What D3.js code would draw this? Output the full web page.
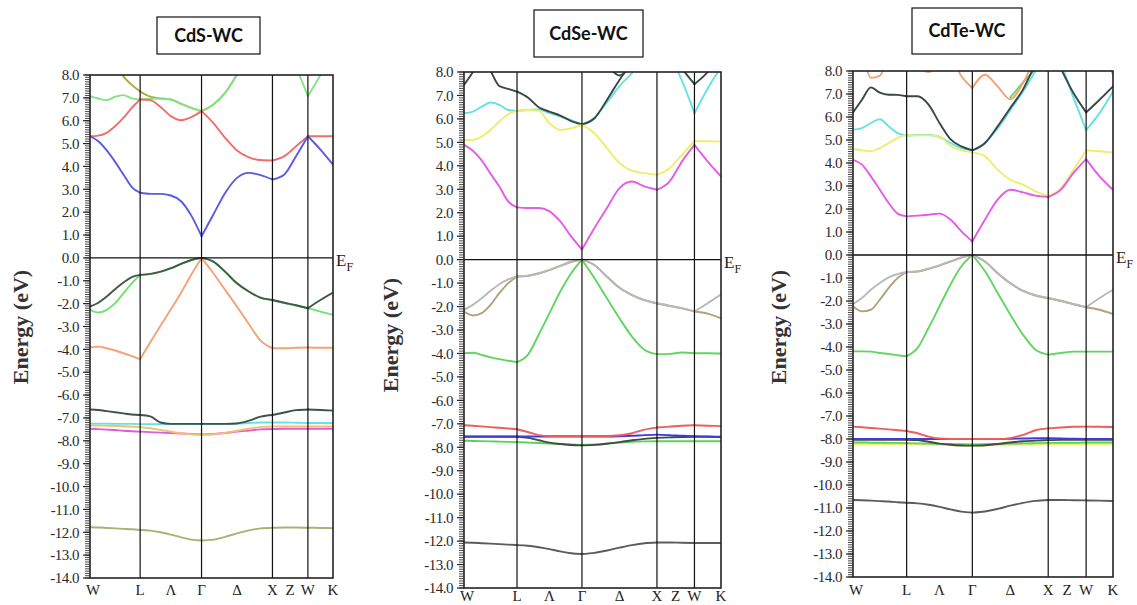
<!DOCTYPE html>
<html>
<head>
<meta charset="utf-8">
<script src="https://cdn.jsdelivr.net/npm/d3@7"></script>
<style>
  body { margin: 0; background: #fff; }
  svg { display: block; }
</style>
</head>
<body>
<svg id="chart" width="1137" height="605"></svg>
<script>
// ---- k-path sampling along W–L–Γ–X–W–K (units of 2π/a) ----
const kPoints = [
  0, 0.118, 0.236, 0.354, 0.471, 0.589, 0.707,      // W → L
  0.851, 0.996, 1.140, 1.284, 1.429, 1.573,         // L → Γ
  1.740, 1.906, 2.073, 2.240, 2.406, 2.573,         // Γ → X
  2.740, 2.906, 3.073,                              // X → W
  3.250, 3.427                                      // W → K
];
const segmentBreaks = [0, 6, 12, 18, 21, 23];
const symmetryLabels = ["W", "L", "Λ", "Γ", "Δ", "X", "Z", "W", "K"];
const symmetryLabelK = [0, 0.707, 1.140, 1.573, 2.073, 2.573, 2.823, 3.073, 3.427];
const symmetryLinesK = [0.707, 1.573, 2.573, 3.073];
const energyRange = [-14, 8];
const energyTicks = d3.range(-14, 8.001, 1);
const panelTitles = ["CdS-WC", "CdSe-WC", "CdTe-WC"];

// ---- CdS (wurtzite) bands, energies in eV relative to E_F ----
const cdsCb1 = [5.32, 5.1, 4.7, 4.2, 3.65, 3.1, 2.85, 2.8, 2.8, 2.73, 2.48, 1.85, 0.95, 1.9, 2.84, 3.5, 3.72, 3.62, 3.43, 3.65, 4.45, 5.32, 4.74, 4.08];
const cdsCb2 = [5.32, 5.35, 5.47, 5.76, 6.12, 6.56, 6.93, 6.9, 6.6, 6.2, 6.02, 6.16, 6.42, 5.9, 5.25, 4.7, 4.4, 4.28, 4.26, 4.45, 4.88, 5.32, 5.32, 5.32];
const cdsCb3 = [7.07, 6.97, 6.9, 7.05, 7.12, 6.98, 6.93, 6.96, 6.97, 6.93, 6.74, 6.56, 6.42, 6.71, 7.22, 8.0, 8.7, 9.3, 9.8, 9.0, 8.3, 7.07, 8.0, 9.0];
const cdsCb4 = [9.6, 9.3, 9.0, 8.6, 7.94, 7.57, 7.28, 7.05, 6.97, 6.93, 6.74, 6.56, 6.42, 6.71, 7.22, 8.0, 8.7, 9.3, 9.8, 10, 10, 10, 10, 10];
const cdsVb1 = [-2.13, -1.96, -1.69, -1.37, -1.08, -0.84, -0.74, -0.70, -0.60, -0.45, -0.26, -0.09, 0, -0.16, -0.60, -1.11, -1.47, -1.74, -1.84, -1.96, -2.07, -2.2, -1.84, -1.52];
const cdsVb2 = [-2.27, -2.39, -2.27, -1.98, -1.55, -1.11, -0.74, -0.71, -0.61, -0.46, -0.27, -0.1, 0, -0.17, -0.61, -1.12, -1.48, -1.75, -1.85, -1.97, -2.08, -2.2, -2.35, -2.49];
const cdsVb3 = [-3.92, -3.88, -3.95, -4.05, -4.17, -4.3, -4.43, -3.69, -2.96, -2.25, -1.52, -0.73, 0, -0.67, -1.4, -2.13, -2.89, -3.62, -3.95, -3.95, -3.93, -3.92, -3.93, -3.93];
const cdsD1 = [-6.63, -6.65, -6.7, -6.75, -6.8, -6.85, -6.87, -6.93, -7.2, -7.26, -7.26, -7.26, -7.26, -7.26, -7.26, -7.24, -7.12, -6.94, -6.87, -6.76, -6.66, -6.63, -6.65, -6.68];
const cdsD2 = [-7.25, -7.25, -7.25, -7.26, -7.26, -7.26, -7.27, -7.27, -7.27, -7.27, -7.27, -7.27, -7.27, -7.27, -7.26, -7.25, -7.22, -7.2, -7.2, -7.2, -7.21, -7.22, -7.22, -7.22];
const cdsD3 = [-7.33, -7.33, -7.34, -7.35, -7.36, -7.38, -7.4, -7.45, -7.52, -7.6, -7.67, -7.71, -7.73, -7.71, -7.65, -7.56, -7.47, -7.4, -7.37, -7.37, -7.37, -7.37, -7.37, -7.37];
const cdsD4 = [-7.47, -7.49, -7.51, -7.53, -7.56, -7.58, -7.6, -7.62, -7.64, -7.66, -7.68, -7.7, -7.72, -7.7, -7.66, -7.6, -7.55, -7.5, -7.48, -7.47, -7.47, -7.47, -7.47, -7.47];
const cdsS = [-11.78, -11.79, -11.81, -11.83, -11.85, -11.87, -11.9, -11.93, -12.0, -12.1, -12.22, -12.32, -12.36, -12.32, -12.2, -12.05, -11.92, -11.83, -11.8, -11.79, -11.79, -11.8, -11.81, -11.82];

// ---- CdSe (wurtzite) bands ----
const cdseCb1 = [4.89, 4.64, 4.23, 3.66, 3.12, 2.48, 2.23, 2.2, 2.2, 2.06, 1.63, 0.99, 0.43, 1.35, 2.2, 3.05, 3.33, 3.12, 2.98, 3.33, 4.18, 4.89, 4.18, 3.55];
const cdseCb2 = [5.1, 5.1, 5.25, 5.53, 5.89, 6.2, 6.34, 6.38, 6.34, 5.82, 5.53, 5.6, 5.74, 5.39, 4.75, 4.11, 3.79, 3.69, 3.62, 3.9, 4.47, 5.06, 5.05, 5.03];
const cdseCb3 = [6.24, 6.31, 6.52, 6.7, 6.6, 6.38, 6.34, 6.38, 6.4, 6.25, 6.1, 5.95, 5.77, 6.05, 6.7, 7.4, 7.95, 8.6, 9.2, 8.7, 7.63, 6.24, 7.3, 8.2];
const cdseCb4 = [9.6, 9.2, 8.7, 8.05, 7.4, 7.28, 7.16, 6.91, 6.5, 6.31, 6.14, 5.91, 5.77, 6.03, 6.81, 7.66, 8.4, 9.0, 9.5, 8.9, 8.15, 7.48, 8.0, 8.8];
const cdseCb5 = [7.45, 8.0, 8.7, 9.4, null, null, null, null, null, null, null, null, null, null, 8.4, 7.85, 8.4, null, null, null, null, null, null, null];
const cdseVb1 = [-2.14, -1.93, -1.65, -1.33, -1.05, -0.84, -0.72, -0.68, -0.58, -0.44, -0.26, -0.09, 0, -0.23, -0.72, -1.19, -1.5, -1.72, -1.86, -1.96, -2.07, -2.21, -1.86, -1.48];
const cdseVb2 = [-2.21, -2.38, -2.28, -1.93, -1.43, -1.01, -0.72, -0.69, -0.59, -0.45, -0.27, -0.1, 0, -0.24, -0.73, -1.2, -1.51, -1.73, -1.87, -1.97, -2.08, -2.21, -2.3, -2.5];
const cdseVb3 = [-3.99, -3.97, -4.06, -4.17, -4.24, -4.31, -4.37, -4.06, -3.2, -2.28, -1.36, -0.58, 0, -0.79, -1.65, -2.5, -3.28, -3.84, -4.03, -4.02, -3.96, -3.99, -3.99, -4.0];
const cdseD1 = [-7.06, -7.08, -7.11, -7.14, -7.17, -7.2, -7.23, -7.35, -7.48, -7.52, -7.52, -7.52, -7.52, -7.52, -7.52, -7.49, -7.4, -7.25, -7.16, -7.12, -7.08, -7.06, -7.08, -7.1];
const cdseD2 = [-7.54, -7.54, -7.54, -7.54, -7.54, -7.54, -7.54, -7.54, -7.54, -7.54, -7.54, -7.54, -7.54, -7.54, -7.54, -7.53, -7.51, -7.48, -7.46, -7.48, -7.51, -7.53, -7.54, -7.55];
const cdseD3 = [-7.55, -7.55, -7.55, -7.55, -7.55, -7.55, -7.55, -7.6, -7.7, -7.8, -7.86, -7.9, -7.92, -7.9, -7.85, -7.78, -7.7, -7.64, -7.6, -7.58, -7.56, -7.55, -7.55, -7.56];
const cdseD4 = [-7.72, -7.73, -7.74, -7.75, -7.76, -7.77, -7.78, -7.8, -7.82, -7.84, -7.86, -7.88, -7.9, -7.88, -7.84, -7.8, -7.77, -7.75, -7.74, -7.74, -7.74, -7.74, -7.74, -7.74];
const cdseS = [-12.06, -12.07, -12.09, -12.11, -12.13, -12.15, -12.17, -12.2, -12.26, -12.34, -12.44, -12.52, -12.55, -12.5, -12.4, -12.28, -12.17, -12.09, -12.06, -12.06, -12.07, -12.08, -12.08, -12.08];

// ---- CdTe (wurtzite) bands ----
const cdteCb1 = [4.14, 3.93, 3.42, 2.84, 2.26, 1.8, 1.68, 1.71, 1.75, 1.8, 1.54, 1.03, 0.59, 1.54, 2.41, 2.84, 2.72, 2.58, 2.52, 2.84, 3.57, 4.17, 3.42, 2.84];
const cdteCb2 = [4.61, 4.55, 4.51, 4.65, 4.87, 5.09, 5.23, 5.2, 5.2, 5.15, 4.75, 4.55, 4.46, 4.29, 3.71, 3.27, 3.06, 2.77, 2.56, 2.91, 3.71, 4.55, 4.51, 4.46];
const cdteCb3 = [5.45, 5.52, 5.74, 5.9, 5.59, 5.3, 5.19, 5.22, 5.22, 5.13, 4.87, 4.65, 4.55, 4.87, 5.5, 6.3, 7.1, 8.0, 9.0, 8.3, 6.84, 5.43, 6.17, 7.12];
const cdteCb4 = [6.2, 6.75, 7.29, 7.06, 6.97, 6.96, 6.9, 6.9, 6.54, 5.74, 5.04, 4.72, 4.55, 4.87, 5.59, 6.39, 7.19, 8.3, 9.2, 8.1, 7.04, 6.2, 6.75, 7.33];
const cdteCb5 = [9.5, 8.8, 7.7, 7.8, 8.6, 9.3, 9.6, 8.3, 7.95, 8.3, 8.6, 7.77, 7.26, 7.84, 7.33, 6.77, 7.48, 8.6, 9.5, 9.5, 9.5, 9.5, 9.0, 7.85];
const cdteCb6 = [null, null, null, null, null, null, null, null, null, null, null, null, null, null, null, 6.85, 7.5, 8.1, 9.0, null, null, null, null, null];
const cdteVb1 = [-2.13, -1.87, -1.51, -1.22, -0.97, -0.83, -0.74, -0.71, -0.59, -0.45, -0.28, -0.1, 0, -0.28, -0.78, -1.22, -1.55, -1.75, -1.87, -1.99, -2.13, -2.27, -1.87, -1.51];
const cdteVb2 = [-2.23, -2.45, -2.38, -1.94, -1.43, -1.0, -0.74, -0.72, -0.6, -0.46, -0.29, -0.11, 0, -0.29, -0.79, -1.23, -1.56, -1.76, -1.88, -2.0, -2.14, -2.27, -2.38, -2.57];
const cdteVb3 = [-4.19, -4.19, -4.2, -4.26, -4.3, -4.36, -4.4, -4.04, -3.17, -2.23, -1.29, -0.49, 0, -0.71, -1.65, -2.59, -3.46, -4.12, -4.33, -4.26, -4.2, -4.2, -4.2, -4.2];
const cdteD1 = [-7.46, -7.49, -7.52, -7.55, -7.58, -7.62, -7.65, -7.75, -7.9, -7.98, -8.0, -8.0, -8.0, -8.0, -8.0, -7.96, -7.82, -7.62, -7.54, -7.5, -7.47, -7.46, -7.47, -7.48];
const cdteD2 = [-8.0, -8.0, -8.0, -8.0, -8.0, -8.0, -8.0, -8.0, -8.0, -8.0, -8.0, -8.0, -8.0, -8.0, -8.0, -7.99, -7.98, -7.97, -7.97, -7.98, -7.99, -8.0, -8.0, -8.0];
const cdteD3 = [-8.03, -8.03, -8.03, -8.03, -8.03, -8.03, -8.03, -8.05, -8.12, -8.2, -8.25, -8.28, -8.29, -8.27, -8.22, -8.15, -8.1, -8.07, -8.05, -8.04, -8.04, -8.04, -8.04, -8.04];
const cdteD4 = [-8.15, -8.15, -8.16, -8.16, -8.17, -8.17, -8.18, -8.19, -8.2, -8.21, -8.22, -8.23, -8.24, -8.23, -8.21, -8.2, -8.19, -8.18, -8.17, -8.16, -8.16, -8.15, -8.15, -8.15];
const cdteD5 = [-8.23, -8.23, -8.23, -8.23, -8.23, -8.23, -8.23, -8.24, -8.25, -8.26, -8.27, -8.28, -8.29, -8.28, -8.27, -8.26, -8.25, -8.24, -8.23, -8.23, -8.23, -8.23, -8.23, -8.23];
const cdteS = [-10.65, -10.66, -10.68, -10.7, -10.72, -10.75, -10.77, -10.8, -10.86, -10.95, -11.06, -11.16, -11.2, -11.15, -11.04, -10.9, -10.78, -10.69, -10.65, -10.65, -10.66, -10.67, -10.68, -10.7];

// ---- panel tables (band, colour) in drawing order ----
const panels = [
  { title: panelTitles[0], bands: [
    [cdsS, "#a8b276"], [cdsD4, "#e05ae0"], [cdsD3, "#f0c070"], [cdsD2, "#66e2e2"], [cdsD1, "#3e524a"],
    [cdsVb3, "#f4a276"], [cdsVb2, "#72e072"], [cdsVb1, "#3f5a46"],
    [cdsCb4, "#a9aa3e"], [cdsCb3, "#86e286"], [cdsCb2, "#f26c6c"], [cdsCb1, "#5a5ae4"]
  ]},
  { title: panelTitles[1], bands: [
    [cdseS, "#5c5c5c"], [cdseD4, "#5ad25a"], [cdseD3, "#444a48"], [cdseD2, "#3c3cdc"], [cdseD1, "#f05c5c"],
    [cdseVb3, "#62d462"], [cdseVb2, "#aea476"], [cdseVb1, "#b8b8b8"],
    [cdseCb5, "#3f4848"], [cdseCb3, "#66e2e2"], [cdseCb4, "#3a4646"], [cdseCb2, "#eeee6e"], [cdseCb1, "#e45ce4"]
  ]},
  { title: panelTitles[2], bands: [
    [cdteS, "#5c5c5c"], [cdteD5, "#f0f070"], [cdteD4, "#5ad25a"], [cdteD3, "#444a48"], [cdteD2, "#3c3cdc"], [cdteD1, "#f05c5c"],
    [cdteVb3, "#62d462"], [cdteVb2, "#aea476"], [cdteVb1, "#b8b8b8"],
    [cdteCb6, "#6cd86c"], [cdteCb5, "#f4a276"], [cdteCb3, "#66e2e2"], [cdteCb4, "#3a4646"], [cdteCb2, "#eeee6e"], [cdteCb1, "#e45ce4"]
  ]}
];

// ---- page layout of the three panels ----
const layout = [
  { left: 90,  right: 333,  top: 75, bottom: 578, kLabelY: 595, box: [157, 17, 103, 37], yLabel: [20, 327] },
  { left: 464, right: 721,  top: 72, bottom: 588, kLabelY: 601, box: [534, 10, 109, 47], yLabel: [390, 335] },
  { left: 853, right: 1113, top: 71, bottom: 577, kLabelY: 595, box: [912, 8, 110, 46],  yLabel: [778, 327] }
];

const svg = d3.select("#chart");
const serif = "'Liberation Serif', 'Times New Roman', serif";

panels.forEach((panel, pi) => {
  const L = layout[pi];
  const x = d3.scaleLinear().domain([kPoints[0], kPoints[kPoints.length - 1]]).range([L.left, L.right]);
  const y = d3.scaleLinear().domain(energyRange).range([L.bottom, L.top]);
  const g = svg.append("g");

  const clipId = "clip" + pi;
  svg.append("clipPath").attr("id", clipId)
    .append("rect")
    .attr("x", L.left).attr("y", L.top)
    .attr("width", L.right - L.left).attr("height", L.bottom - L.top);

  // bands, drawn one high-symmetry segment at a time
  const line = d3.line()
    .defined(d => d[1] != null)
    .x(d => x(d[0])).y(d => y(d[1]))
    .curve(d3.curveMonotoneX);
  const bandG = g.append("g").attr("clip-path", `url(#${clipId})`);
  panel.bands.forEach(([energies, color]) => {
    for (let s = 0; s < segmentBreaks.length - 1; s++) {
      const pts = d3.range(segmentBreaks[s], segmentBreaks[s + 1] + 1)
        .map(i => [kPoints[i], energies[i]]);
      bandG.append("path")
        .attr("d", line(pts))
        .attr("fill", "none")
        .attr("stroke", color)
        .attr("stroke-width", 1.9)
        .attr("stroke-linejoin", "round")
        .attr("stroke-linecap", "round");
    }
  });

  // high-symmetry verticals and Fermi level
  g.selectAll(".sym").data(symmetryLinesK).join("line")
    .attr("x1", d => x(d)).attr("x2", d => x(d))
    .attr("y1", L.top).attr("y2", L.bottom)
    .attr("stroke", "#111").attr("stroke-width", 1.2);
  g.append("line")
    .attr("x1", L.left).attr("x2", L.right)
    .attr("y1", y(0)).attr("y2", y(0))
    .attr("stroke", "#111").attr("stroke-width", 1.4);

  // frame
  g.append("rect")
    .attr("x", L.left).attr("y", L.top)
    .attr("width", L.right - L.left).attr("height", L.bottom - L.top)
    .attr("fill", "none").attr("stroke", "#222").attr("stroke-width", 1.6);

  // energy axis: minor comb every 0.1 eV, labelled every 1 eV
  const minor = d3.range(-140, 81).map(i => i / 10);
  g.selectAll(".minor").data(minor).join("line")
    .attr("x1", L.left - 5).attr("x2", L.left)
    .attr("y1", d => y(d)).attr("y2", d => y(d))
    .attr("stroke", "#333").attr("stroke-width", 0.9);
  g.selectAll(".major").data(energyTicks).join("line")
    .attr("x1", L.left - 7).attr("x2", L.left)
    .attr("y1", d => y(d)).attr("y2", d => y(d))
    .attr("stroke", "#222").attr("stroke-width", 1.2);
  g.selectAll(".ylab").data(energyTicks).join("text")
    .attr("x", L.left - 11).attr("y", d => y(d))
    .attr("dy", "0.35em")
    .attr("text-anchor", "end")
    .attr("font-family", serif).attr("font-size", 15)
    .attr("letter-spacing", "-0.5")
    .attr("fill", "#2a2a2a")
    .text(d => d.toFixed(1));

  // k-path labels
  g.selectAll(".klab").data(symmetryLabels).join("text")
    .attr("x", (d, i) => x(symmetryLabelK[i]) + (i === 0 ? 3 : 0))
    .attr("y", L.kLabelY)
    .attr("text-anchor", "middle")
    .attr("font-family", serif).attr("font-size", 15)
    .attr("fill", "#222")
    .text(d => d);

  // E_F marker
  const ef = g.append("text")
    .attr("x", L.right + 3).attr("y", y(0) + 8)
    .attr("font-family", serif).attr("font-size", 17).attr("fill", "#222");
  ef.append("tspan").text("E");
  ef.append("tspan").attr("dy", 5).attr("font-size", 12).text("F");

  // axis title
  g.append("text")
    .attr("transform", `translate(${L.yLabel[0]},${L.yLabel[1]}) rotate(-90)`)
    .attr("text-anchor", "middle").attr("dy", "0.35em")
    .attr("font-family", serif).attr("font-weight", "bold").attr("font-size", 22)
    .attr("fill", "#333")
    .text("Energy (eV)");

  // title box
  const [bx, by, bw, bh] = L.box;
  g.append("rect")
    .attr("x", bx).attr("y", by).attr("width", bw).attr("height", bh)
    .attr("fill", "#fff").attr("stroke", "#111").attr("stroke-width", 1.2);
  g.append("text")
    .attr("x", bx + bw / 2).attr("y", by + bh / 2)
    .attr("dy", "0.36em").attr("text-anchor", "middle")
    .attr("font-family", "Lato, 'Open Sans', sans-serif").attr("font-weight", "bold").attr("font-size", 18)
    .attr("fill", "#111")
    .text(panel.title);
});
</script>
</body>
</html>
